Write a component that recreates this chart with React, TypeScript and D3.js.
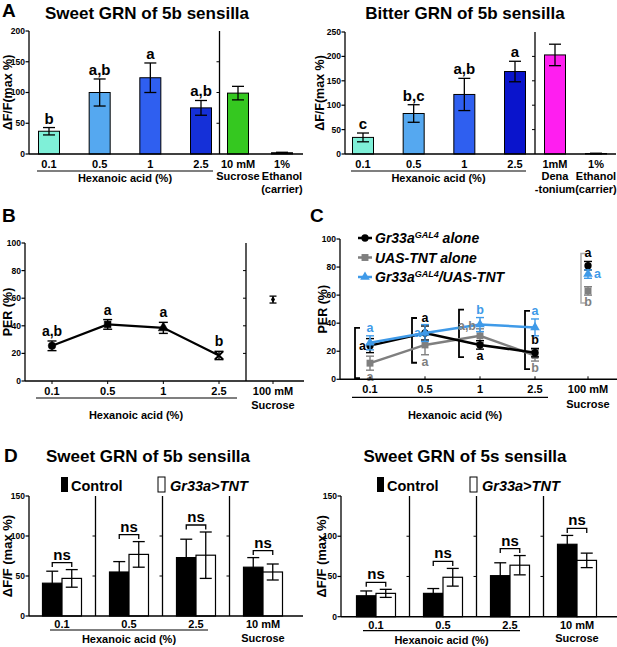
import React from "react";
import * as d3 from "d3";

const FONT = "'Liberation Sans', Arial, Helvetica, sans-serif";

// ---------- DATA ----------
const hexCats = ["0.1", "0.5", "1", "2.5"];

const sweet5bMeans = [37, 100, 124, 75];
const sweet5bErrs = [6, 22, 24, 12];
const sweet5bLetters = ["b", "a,b", "a", "a,b"];
const sweet5bCtrlLabels = [["10 mM", "Sucrose"], ["1%", "Ethanol", "(carrier)"]];
const sweet5bCtrlMeans = [99, 2];
const sweet5bCtrlErrs = [11, 0.8];
const sweetTicks = [0, 50, 100, 150, 200];

const bitter5bMeans = [34, 83, 122, 169];
const bitter5bErrs = [9, 18, 33, 21];
const bitter5bLetters = ["c", "b,c", "a,b", "a"];
const bitter5bCtrlLabels = [["1mM", "Dena", "-tonium"], ["1%", "Ethanol", "(carrier)"]];
const bitter5bCtrlMeans = [203, 1];
const bitter5bCtrlErrs = [22, 0.6];
const bitterTicks = [0, 50, 100, 150, 200, 250];

const perMeans = [25.5, 41, 38.5, 18.5];
const perErrs = [3.5, 3.5, 4, 3];
const perLetters = ["a,b", "a", "a", "b"];
const perSucroseMean = 59;
const perSucroseErr = 2.5;
const perTicks = [0, 20, 40, 60, 80, 100];
const sucroseLabel = ["100 mM", "Sucrose"];

const gr33aMeans = [24, 33, 24.5, 19];
const gr33aErrs = [5, 5, 3, 3];
const gr33aSucrose = [81, 3];
const gr33aLetters = ["a", "a", "a", "b", "a"];

const uasTntMeans = [11.5, 24.5, 31, 17];
const uasTntErrs = [5, 7, 5, 4];
const uasTntSucrose = [63, 3];
const uasTntLetters = ["a", "a", "a,b", "b", "b"];

const crossMeans = [26, 33, 39, 37];
const crossErrs = [5, 6, 5, 6];
const crossSucrose = [75, 3];
const crossLetters = ["a", "a", "b", "a", "a"];

const dConds = ["0.1", "0.5", "2.5", "10 mM"];
const d5bControlMeans = [41, 55, 73, 61];
const d5bControlErrs = [15, 13, 23, 12];
const d5bTntMeans = [47, 77, 76, 55];
const d5bTntErrs = [11, 16, 29, 10];
const d5sControlMeans = [26, 29, 51, 90];
const d5sControlErrs = [6, 6, 16, 11];
const d5sTntMeans = [29, 49, 64, 70];
const d5sTntErrs = [5, 11, 12, 9];
const dTicks = [0, 50, 100, 150];

// ---------- HELPERS ----------
function ErrBar({ x, y1, y2, cap, color = "#000", sw = 1.3 }: any) {
  return (
    <g stroke={color} strokeWidth={sw}>
      <line x1={x} x2={x} y1={y1} y2={y2} />
      <line x1={x - cap / 2} x2={x + cap / 2} y1={y1} y2={y1} />
      <line x1={x - cap / 2} x2={x + cap / 2} y1={y2} y2={y2} />
    </g>
  );
}

function YAxis({ x, y, ticks, label, labelX, labelSize = 12.5 }: any) {
  const max = ticks[ticks.length - 1];
  return (
    <g>
      <line x1={x} x2={x} y1={y(0)} y2={y(max)} stroke="#000" strokeWidth={1.3} />
      {ticks.map((t: number) => (
        <g key={t}>
          <line x1={x - 3.5} x2={x} y1={y(t)} y2={y(t)} stroke="#000" strokeWidth={1.2} />
          <text x={x - 4} y={y(t)} dy="0.35em" textAnchor="end" fontSize={8.5} fontWeight="bold">
            {t}
          </text>
        </g>
      ))}
      <text
        transform={`translate(${labelX},${(y(0) + y(max)) / 2}) rotate(-90)`}
        textAnchor="middle"
        fontSize={labelSize}
        fontWeight="bold"
      >
        {label}
      </text>
    </g>
  );
}

function Separator({ x, y, ticks }: any) {
  const max = ticks[ticks.length - 1];
  return (
    <g stroke="#000">
      <line x1={x} x2={x} y1={y(0)} y2={y(max)} strokeWidth={1.3} />
      {ticks.slice(1, -1).map((t: number) => (
        <line key={t} x1={x - 3} x2={x} y1={y(t)} y2={y(t)} strokeWidth={1} />
      ))}
    </g>
  );
}

function MultiLine({ x, y, lines, size = 11, lh = 12.8, anchor = "middle" }: any) {
  return (
    <g>
      {lines.map((l: string, i: number) => (
        <text key={i} x={x} y={y + i * lh} textAnchor={anchor} fontSize={size} fontWeight="bold">
          {l}
        </text>
      ))}
    </g>
  );
}

// ---------- PANEL A ----------
function BarPanelA(p: any) {
  const { y, hexX, ctrlX, ticks } = p;
  const y0 = y(0);
  const bw = 21;
  const sepX = (hexX(hexCats[hexCats.length - 1]) + ctrlX[0]) / 2;
  return (
    <g>
      {p.letter && (
        <text x={p.letterX} y={17} fontSize={19} fontWeight="bold">
          {p.letter}
        </text>
      )}
      <text x={p.titleX} y={18.5} textAnchor="middle" fontSize={17} fontWeight="bold">
        {p.title}
      </text>
      {p.means.map((m: number, i: number) => {
        const cx = hexX(hexCats[i]);
        const top = y(m + p.errs[i]);
        return (
          <g key={i}>
            <rect x={cx - bw / 2} y={y(m)} width={bw} height={y0 - y(m)} fill={p.colors[i]} stroke="#000" strokeWidth={1} />
            <ErrBar x={cx} y1={top} y2={y(m - p.errs[i])} cap={12} />
            <text x={cx} y={top - 4} textAnchor="middle" fontSize={15} fontWeight="bold">
              {p.letters[i]}
            </text>
            <text x={cx} y={y0 + 13.5} textAnchor="middle" fontSize={11} fontWeight="bold">
              {hexCats[i]}
            </text>
          </g>
        );
      })}
      {p.ctrlMeans.map((m: number, i: number) => {
        const cx = ctrlX[i];
        return (
          <g key={"c" + i}>
            <rect x={cx - bw / 2} y={y(m)} width={bw} height={y0 - y(m)} fill={p.ctrlColors[i]} stroke="#000" strokeWidth={1} />
            <ErrBar x={cx} y1={y(m + p.ctrlErrs[i])} y2={y(Math.max(0, m - p.ctrlErrs[i]))} cap={12} />
            <MultiLine x={cx} y={y0 + 13.5} lines={p.ctrlLabels[i]} />
          </g>
        );
      })}
      <YAxis x={p.axisX} y={y} ticks={ticks} label="ΔF/F(max %)" labelX={p.yLabelX} />
      <Separator x={sepX} y={y} ticks={ticks} />
      <line x1={p.axisX} x2={p.axisEnd} y1={y0} y2={y0} stroke="#000" strokeWidth={1.5} />
      <line x1={p.underline[0]} x2={p.underline[1]} y1={y0 + 17} y2={y0 + 17} stroke="#000" strokeWidth={1.2} />
      <text x={(p.underline[0] + p.underline[1]) / 2} y={y0 + 28} textAnchor="middle" fontSize={11} fontWeight="bold">
        Hexanoic acid (%)
      </text>
    </g>
  );
}

// ---------- PANEL B ----------
function PanelB() {
  const y = d3.scaleLinear().domain([0, 100]).range([381, 243]);
  const x = d3.scalePoint<string>().domain(hexCats).range([52, 219]);
  const sucX = 273;
  const y0 = y(0);
  const symbols = [d3.symbolCircle, d3.symbolSquare, d3.symbolTriangle, d3.symbolTimes];
  const line = d3
    .line<number>()
    .x((_, i) => x(hexCats[i]) as number)
    .y((d) => y(d));
  const sepX = ((x("2.5") as number) + sucX) / 2;
  return (
    <g>
      <text x={2} y={222} fontSize={19} fontWeight="bold">B</text>
      <path d={line(perMeans) as string} fill="none" stroke="#000" strokeWidth={2.2} />
      {perMeans.map((m, i) => {
        const cx = x(hexCats[i]) as number;
        const sym = d3.symbol(symbols[i], 45)();
        return (
          <g key={i}>
            <ErrBar x={cx} y1={y(m + perErrs[i])} y2={y(m - perErrs[i])} cap={9} sw={1.4} />
            <path d={sym as string} transform={`translate(${cx},${y(m)})`} fill="#000" stroke="#000" strokeWidth={i === 3 ? 2 : 0.5} />
            <text x={cx} y={y(m + perErrs[i]) - 5} textAnchor="middle" fontSize={14} fontWeight="bold">
              {perLetters[i]}
            </text>
            <text x={cx} y={y0 + 14} textAnchor="middle" fontSize={11} fontWeight="bold">
              {hexCats[i]}
            </text>
          </g>
        );
      })}
      <ErrBar x={sucX} y1={y(perSucroseMean + perSucroseErr)} y2={y(perSucroseMean - perSucroseErr)} cap={7} sw={1.3} />
      <path d={d3.symbol(d3.symbolDiamond, 14)() as string} transform={`translate(${sucX},${y(perSucroseMean)})`} fill="#000" />
      <MultiLine x={sucX} y={y0 + 14} lines={sucroseLabel} lh={14} />
      <YAxis x={25} y={y} ticks={perTicks} label="PER (%)" labelX={11.5} />
      <Separator x={sepX} y={y} ticks={perTicks} />
      <line x1={25} x2={304} y1={y0} y2={y0} stroke="#000" strokeWidth={1.5} />
      {hexCats.map((c) => (
        <line key={c} x1={x(c)} x2={x(c)} y1={y0} y2={y0 + 3} stroke="#000" />
      ))}
      <line x1={sucX} x2={sucX} y1={y0} y2={y0 + 3} stroke="#000" />
      <line x1={36} x2={237} y1={y0 + 17} y2={y0 + 17} stroke="#000" strokeWidth={1.2} />
      <text x={136} y={y0 + 38} textAnchor="middle" fontSize={11} fontWeight="bold">
        Hexanoic acid (%)
      </text>
    </g>
  );
}

// ---------- PANEL C ----------
const GRAY = "#7f7f7f";
const BLUE = "#3f9ae8";

function PanelC() {
  const y = d3.scaleLinear().domain([0, 100]).range([379.3, 239]);
  const x = d3.scalePoint<string>().domain(hexCats).range([370, 535]);
  const sucX = 588;
  const y0 = y(0);
  const series = [
    { means: uasTntMeans, errs: uasTntErrs, suc: uasTntSucrose, letters: uasTntLetters, color: GRAY, sym: d3.symbolSquare, size: 48 },
    { means: gr33aMeans, errs: gr33aErrs, suc: gr33aSucrose, letters: gr33aLetters, color: "#000", sym: d3.symbolCircle, size: 42 },
    { means: crossMeans, errs: crossErrs, suc: crossSucrose, letters: crossLetters, color: BLUE, sym: d3.symbolTriangle, size: 40 },
  ];
  // letter placement per concentration: [uas, gr33a, cross]
  const placement = [
    ["below", "left", "above"],
    ["below", "above", "left"],
    ["upleft", "below", "above"],
    ["below", "above", "above"],
    ["below", "above", "right"],
  ];
  const bracketDx = [-15, -13, -21, -10, -7];
  const line = d3
    .line<number>()
    .x((_, i) => x(hexCats[i]) as number)
    .y((d) => y(d));
  const xs = [...hexCats.map((c) => x(c) as number), sucX];

  const letterEls: any[] = [];
  const brackets: any[] = [];
  xs.forEach((cx, ci) => {
    let topB = Infinity;
    let botB = -Infinity;
    series.forEach((s, si) => {
      const m = ci < 4 ? s.means[ci] : s.suc[0];
      const e = ci < 4 ? s.errs[ci] : s.suc[1];
      const pl = placement[ci][si];
      let tx = cx;
      let ty = 0;
      let anchor = "middle";
      if (pl === "above") {
        ty = y(m + e) - 4;
        topB = Math.min(topB, ty - 4);
      } else if (pl === "below") {
        ty = y(m - e) + 11;
        botB = Math.max(botB, ty - 3);
      } else if (pl === "left") {
        tx = cx - 4;
        ty = y(m) + 4;
        anchor = "end";
      } else if (pl === "upleft") {
        tx = cx - 4;
        ty = y(m + e) + 1;
        anchor = "end";
      } else {
        tx = cx + 6;
        ty = y(m) + 4;
        anchor = "start";
      }
      letterEls.push(
        <text key={`l${ci}-${si}`} x={tx} y={ty} textAnchor={anchor} fontSize={12.5} fontWeight="bold" fill={s.color}>
          {s.letters[ci]}
        </text>
      );
    });
    const bx = cx + bracketDx[ci];
    const bc = ci < 4 ? "#000" : "#aaa";
    brackets.push(
      <path
        key={"b" + ci}
        d={`M${bx + 5},${topB} H${bx} V${botB} H${bx + 5}`}
        fill="none"
        stroke={bc}
        strokeWidth={ci < 4 ? 1.8 : 1.5}
      />
    );
  });

  const legend = [
    { color: "#000", sym: d3.symbolCircle, size: 42, y: 243, parts: ["Gr33a", "GAL4", " alone"] },
    { color: GRAY, sym: d3.symbolSquare, size: 48, y: 262.5, parts: ["UAS-TNT alone"] },
    { color: BLUE, sym: d3.symbolTriangle, size: 40, y: 282, parts: ["Gr33a", "GAL4", "/UAS-TNT"] },
  ];

  return (
    <g>
      <text x={310} y={222} fontSize={19} fontWeight="bold">C</text>
      {brackets}
      {series.map((s, si) => (
        <g key={si}>
          <path d={line(s.means) as string} fill="none" stroke={s.color} strokeWidth={2.5} />
          {s.means.map((m, i) => {
            const cx = x(hexCats[i]) as number;
            return (
              <g key={i}>
                <ErrBar x={cx} y1={y(m + s.errs[i])} y2={y(m - s.errs[i])} cap={8} color={s.color} sw={1.4} />
                <path d={d3.symbol(s.sym, s.size)() as string} transform={`translate(${cx},${y(m)})`} fill={s.color} />
              </g>
            );
          })}
          <ErrBar x={sucX} y1={y(s.suc[0] + s.suc[1])} y2={y(s.suc[0] - s.suc[1])} cap={8} color={s.color} sw={1.4} />
          <path d={d3.symbol(s.sym, s.size)() as string} transform={`translate(${sucX},${y(s.suc[0])})`} fill={s.color} />
        </g>
      ))}
      {letterEls}
      {legend.map((l, i) => (
        <g key={i}>
          <line x1={358} x2={372} y1={l.y - 5} y2={l.y - 5} stroke={l.color} strokeWidth={2.5} />
          <path d={d3.symbol(l.sym, l.size)() as string} transform={`translate(365,${l.y - 5})`} fill={l.color} />
          <text x={375} y={l.y} fontSize={14} fontWeight="bold" fontStyle="italic">
            {l.parts.length === 1 ? (
              l.parts[0]
            ) : (
              <>
                <tspan>{l.parts[0]}</tspan>
                <tspan fontSize={9} dy={-5}>
                  {l.parts[1]}
                </tspan>
                <tspan dy={5}>{l.parts[2]}</tspan>
              </>
            )}
          </text>
        </g>
      ))}
      <YAxis x={340} y={y} ticks={perTicks} label="PER (%)" labelX={327} />
      <line x1={340} x2={617} y1={y0} y2={y0} stroke="#000" strokeWidth={1.5} />
      {xs.map((cx, i) => (
        <line key={i} x1={cx} x2={cx} y1={y0} y2={y0 - 3} stroke="#000" />
      ))}
      {hexCats.map((c) => (
        <text key={c} x={x(c)} y={y0 + 14} textAnchor="middle" fontSize={11} fontWeight="bold">
          {c}
        </text>
      ))}
      <MultiLine x={sucX} y={y0 + 14} lines={sucroseLabel} lh={15} />
      <line x1={352} x2={548} y1={y0 + 18} y2={y0 + 18} stroke="#000" strokeWidth={1.2} />
      <text x={455} y={y0 + 40} textAnchor="middle" fontSize={11} fontWeight="bold">
        Hexanoic acid (%)
      </text>
    </g>
  );
}

// ---------- PANEL D ----------
function PanelD(p: any) {
  const y = d3.scaleLinear().domain([0, 150]).range([p.y0, 496]);
  const x = d3.scalePoint<string>().domain(dConds).range(p.groupRange);
  const inner = d3.scaleBand<string>().domain(["control", "tnt"]).range([-19.5, 19.5]);
  const bw = inner.bandwidth();
  const y0 = y(0);
  const centers = dConds.map((c) => x(c) as number);
  const seps = centers.slice(0, -1).map((c, i) => (c + centers[i + 1]) / 2);
  const sub = [
    { key: "control", means: p.ctrlMeans, errs: p.ctrlErrs, fill: "#000" },
    { key: "tnt", means: p.tntMeans, errs: p.tntErrs, fill: "#fff" },
  ];
  return (
    <g>
      {p.letter && (
        <text x={4} y={462} fontSize={19} fontWeight="bold">{p.letter}</text>
      )}
      <text x={p.titleX} y={462} textAnchor="middle" fontSize={17} fontWeight="bold">
        {p.title}
      </text>
      <rect x={p.legendX[0]} y={477} width={7} height={15} fill="#000" />
      <text x={p.legendX[0] + 10} y={491} fontSize={14.5} fontWeight="bold">Control</text>
      <rect x={p.legendX[1]} y={477} width={7} height={15} fill="#fff" stroke="#000" strokeWidth={1} />
      <text x={p.legendX[1] + 12} y={491} fontSize={14.5} fontWeight="bold" fontStyle="italic">Gr33a&gt;TNT</text>
      {centers.map((cx, ci) => {
        const tops: number[] = [];
        const subCenters: number[] = [];
        const els = sub.map((s) => {
          const bx = cx + (inner(s.key) as number);
          const m = s.means[ci];
          const e = s.errs[ci];
          tops.push(y(m + e));
          subCenters.push(bx + bw / 2);
          return (
            <g key={s.key}>
              <rect x={bx} y={y(m)} width={bw} height={y0 - y(m)} fill={s.fill} stroke="#000" strokeWidth={1.2} />
              <ErrBar x={bx + bw / 2} y1={y(m + e)} y2={y(m - e)} cap={12} sw={1.3} />
            </g>
          );
        });
        const by = Math.min(...tops) - 7;
        return (
          <g key={ci}>
            {els}
            <path d={`M${subCenters[0]},${by + 4.5} V${by} H${subCenters[1]} V${by + 4.5}`} fill="none" stroke="#000" strokeWidth={1.3} />
            <text x={cx} y={by - 3} textAnchor="middle" fontSize={15} fontWeight="bold">ns</text>
          </g>
        );
      })}
      {seps.map((sx, i) => (
        <Separator key={i} x={sx} y={y} ticks={dTicks} />
      ))}
      <YAxis x={p.axisX} y={y} ticks={dTicks} label="ΔF/F (max %)" labelX={p.yLabelX} labelSize={13} />
      <line x1={p.axisX} x2={p.axisEnd} y1={y0} y2={y0} stroke="#000" strokeWidth={1.5} />
      {dConds.slice(0, 3).map((c, i) => (
        <text key={c} x={centers[i]} y={y0 + 12} textAnchor="middle" fontSize={11} fontWeight="bold">{c}</text>
      ))}
      <MultiLine x={centers[3]} y={y0 + 12} lines={["10 mM", "Sucrose"]} lh={13.5} />
      <line x1={p.underline[0]} x2={p.underline[1]} y1={y0 + 14} y2={y0 + 14} stroke="#000" strokeWidth={1.2} />
      <text x={(p.underline[0] + p.underline[1]) / 2} y={y0 + 27} textAnchor="middle" fontSize={11} fontWeight="bold">
        Hexanoic acid (%)
      </text>
    </g>
  );
}

export default function App() {
  const ySweet = d3.scaleLinear().domain([0, 200]).range([154, 31]);
  const yBitter = d3.scaleLinear().domain([0, 250]).range([154, 32]);
  const hexColorsSweet = ["#7ff0d8", "#55a8f0", "#2f5ff0", "#1530d8"];
  const hexColorsBitter = ["#7ff0d8", "#55a8f0", "#2f5ff0", "#0a14cc"];
  return (
    <svg
      width={617}
      height={647}
      viewBox="0 0 617 647"
      style={{ position: "absolute", left: 0, top: 0, background: "#fff" }}
      fontFamily={FONT}
    >
      <rect width={617} height={647} fill="#fff" />
      <BarPanelA
        letter="A"
        letterX={2}
        title="Sweet GRN of 5b sensilla"
        titleX={147}
        y={ySweet}
        ticks={sweetTicks}
        axisX={29}
        axisEnd={303}
        yLabelX={11.5}
        hexX={d3.scalePoint<string>().domain(hexCats).range([49, 201])}
        ctrlX={[238, 282]}
        means={sweet5bMeans}
        errs={sweet5bErrs}
        colors={hexColorsSweet}
        letters={sweet5bLetters}
        ctrlMeans={sweet5bCtrlMeans}
        ctrlErrs={sweet5bCtrlErrs}
        ctrlColors={["#35c820", "#000"]}
        ctrlLabels={sweet5bCtrlLabels}
        underline={[37, 213]}
      />
      <BarPanelA
        title="Bitter GRN of 5b sensilla"
        titleX={465}
        y={yBitter}
        ticks={bitterTicks}
        axisX={345}
        axisEnd={616}
        yLabelX={324}
        hexX={d3.scalePoint<string>().domain(hexCats).range([363, 515])}
        ctrlX={[555, 596]}
        means={bitter5bMeans}
        errs={bitter5bErrs}
        colors={hexColorsBitter}
        letters={bitter5bLetters}
        ctrlMeans={bitter5bCtrlMeans}
        ctrlErrs={bitter5bCtrlErrs}
        ctrlColors={["#ff1ef0", "#000"]}
        ctrlLabels={bitter5bCtrlLabels}
        underline={[351, 526]}
      />
      <PanelB />
      <PanelC />
      <PanelD
        letter="D"
        title="Sweet GRN of 5b sensilla"
        titleX={148}
        y0={616}
        axisX={29}
        axisEnd={303}
        yLabelX={12}
        groupRange={[62, 263]}
        legendX={[61, 158]}
        ctrlMeans={d5bControlMeans}
        ctrlErrs={d5bControlErrs}
        tntMeans={d5bTntMeans}
        tntErrs={d5bTntErrs}
        underline={[50, 208]}
      />
      <PanelD
        title="Sweet GRN of 5s sensilla"
        titleX={465}
        y0={616.7}
        axisX={341}
        axisEnd={617}
        yLabelX={326}
        groupRange={[376, 577]}
        legendX={[377, 470]}
        ctrlMeans={d5sControlMeans}
        ctrlErrs={d5sControlErrs}
        tntMeans={d5sTntMeans}
        tntErrs={d5sTntErrs}
        underline={[363, 520]}
      />
    </svg>
  );
}
